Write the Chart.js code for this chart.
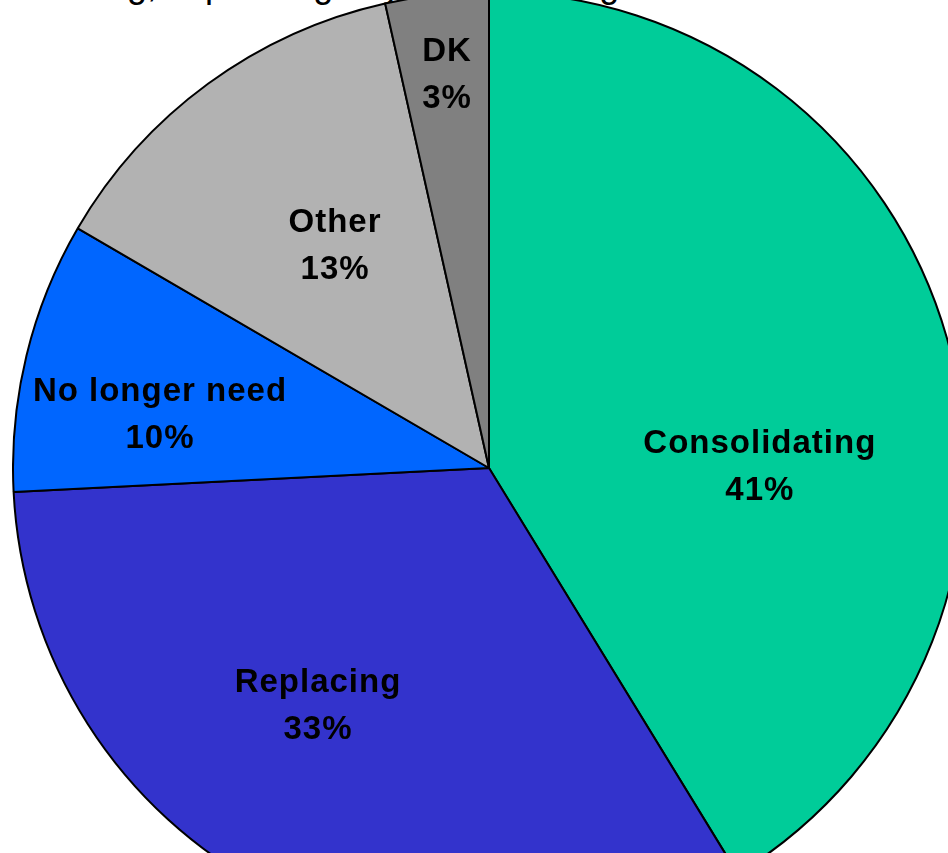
<!DOCTYPE html>
<html>
<head>
<meta charset="utf-8">
<script src="https://cdn.jsdelivr.net/npm/chart.js@4"></script>
<style>
html,body{margin:0;padding:0;background:#fff;overflow:hidden;width:948px;height:853px}
#title{position:absolute;left:107px;top:-33px;font:36px/36px "Liberation Sans",Arial,sans-serif;color:#000;white-space:nowrap}
#wrap{position:absolute;left:12px;top:-9px;width:954px;height:954px}
</style>
</head>
<body>
<div id="title">ng, expanding any of its existing</div>
<div id="wrap"><canvas id="pie"></canvas></div>
<script>
// reasons, clockwise from 12 o'clock
var labels=['Consolidating','Replacing','No longer need','Other','DK'];
var values=[41.25,32.95,9.2,13.1,3.5];          // slice sizes as drawn
var pctText=['41%','33%','10%','13%','3%'];       // printed labels
var colors=['#00CC99','#3333CC','#0066FF','#B2B2B2','#808080'];

// label placement: shift from mid-angle (deg) and fraction of radius
var labelShift=[15.6,7.8,-4.6,1.4,0.2];
var labelRadius=[0.569,0.617,0.70,0.567,0.830];

var sliceLabels={
  id:'sliceLabels',
  afterDatasetsDraw:function(chart){
    var c=chart.ctx;
    var arcs=chart.getDatasetMeta(0).data;
    c.save();
    c.font='bold 33px "Liberation Sans", Arial, sans-serif';
    c.letterSpacing='1px';
    c.fillStyle='#000';
    c.textAlign='center';
    c.textBaseline='middle';
    arcs.forEach(function(a,i){
      var p=a.getProps(['x','y','startAngle','endAngle','outerRadius'],true);
      var ang=(p.startAngle+p.endAngle)/2+labelShift[i]*Math.PI/180;
      var r=p.outerRadius*labelRadius[i];
      var x=p.x+Math.cos(ang)*r, y=p.y+Math.sin(ang)*r;
      c.fillText(labels[i],x,y-23.5);
      c.fillText(pctText[i],x,y+23.5);
    });
    c.restore();
  }
};

new Chart(document.getElementById('pie').getContext('2d'),{
  type:'pie',
  data:{labels:labels,datasets:[{data:values,backgroundColor:colors,borderColor:'#000',borderWidth:2,borderAlign:'center'}]},
  options:{
    responsive:true,maintainAspectRatio:false,animation:false,
    layout:{padding:0},
    plugins:{legend:{display:false},tooltip:{enabled:false}}
  },
  plugins:[sliceLabels]
});
</script>
</body>
</html>
